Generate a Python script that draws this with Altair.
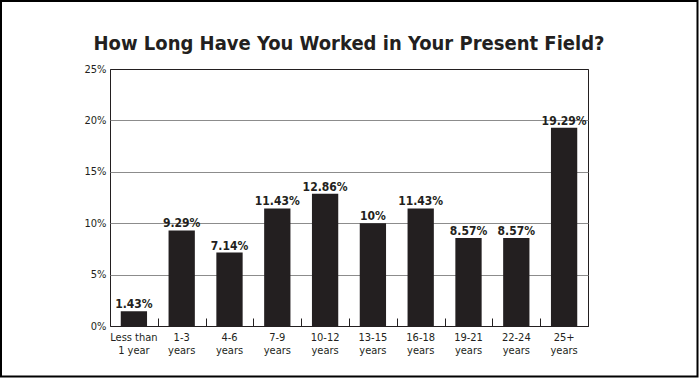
import altair as alt
import pandas as pd

categories = ["Less than|1 year", "1-3|years", "4-6|years", "7-9|years", "10-12|years",
              "13-15|years", "16-18|years", "19-21|years", "22-24|years", "25+|years"]
values = [1.43, 9.29, 7.14, 11.43, 12.86, 10, 11.43, 8.57, 8.57, 19.29]
labels = ["1.43%", "9.29%", "7.14%", "11.43%", "12.86%", "10%", "11.43%", "8.57%", "8.57%", "19.29%"]
y_ticks = [0, 5, 10, 15, 20, 25]

df = pd.DataFrame({"cat": categories, "val": values, "lab": labels})

W, H = 478, 257
STEP = W / len(categories)
INK = "#231f20"
FONT = "DejaVu Sans Condensed, Liberation Sans Narrow, sans-serif"

xscale = alt.Scale(domain=categories, paddingInner=0.45, paddingOuter=0.225)
yscale = alt.Scale(domain=[0, 25], nice=False)

base = alt.Chart(df)

bars = base.mark_bar(color=INK).encode(
    x=alt.X("cat:N", sort=categories, scale=xscale,
            axis=alt.Axis(orient="bottom", title=None, labelAngle=0, ticks=False, domain=False,
                          labelExpr="split(datum.label, '|')", labelFont=FONT, labelFontSize=11,
                          labelColor=INK, labelPadding=5, labelLineHeight=13)),
    y=alt.Y("val:Q", scale=yscale,
            axis=alt.Axis(title=None, values=y_ticks, labelExpr="datum.value + '%'", ticks=False,
                          domain=False, labelFont=FONT, labelFontSize=11, labelColor=INK,
                          labelPadding=4,
                          gridColor={"condition": {"test": "datum.value == 0 || datum.value == 25",
                                                   "value": INK}, "value": "#8c8c8c"})),
)

text = base.mark_text(font=FONT, fontSize=12, fontWeight="bold", color=INK,
                      baseline="alphabetic", dy=-3).encode(
    x=alt.X("cat:N", sort=categories, scale=xscale,
            axis=alt.Axis(orient="top", offset=-H, labels=False, domain=False, ticks=True,
                          tickOffset=STEP / 2, tickSize=8, tickColor=INK, tickWidth=1,
                          grid=False, title=None)),
    y=alt.Y("val:Q", scale=yscale),
    text="lab:N",
)

frame = alt.Chart(pd.DataFrame({"a": [0]})).mark_rect(
    fill=None, stroke="black", strokeWidth=2).encode(
    x=alt.value(-109), x2=alt.value(587.5), y=alt.value(-68), y2=alt.value(307.5))

chart = alt.layer(bars, text, frame).resolve_axis(x="independent").properties(
    width=W, height=H,
    autosize=alt.AutoSizeParams(type="none"),
    padding={"left": 110, "top": 69, "right": 111, "bottom": 52},
    title=alt.TitleParams("How Long Have You Worked in Your Present Field?", font=FONT,
                          fontSize=20, fontWeight="bold", color=INK, anchor="middle", offset=-54),
    background="white",
).configure_view(stroke=INK, strokeWidth=1)

chart.save("out.html", embed_options={"renderer": "svg", "actions": False})
